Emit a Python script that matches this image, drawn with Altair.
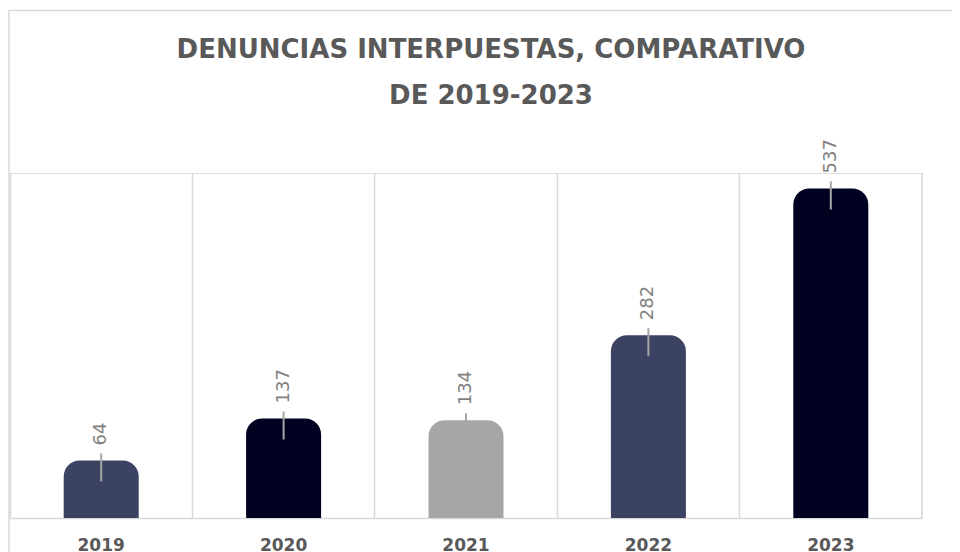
import altair as alt
import pandas as pd

years = ["2019", "2020", "2021", "2022", "2023"]
values = [64, 137, 134, 282, 537]
bar_colors = ["#3c4262", "#000020", "#a6a6a6", "#3c4262", "#000020"]
title_lines = ["DENUNCIAS INTERPUESTAS, COMPARATIVO", "DE 2019-2023"]

df = pd.DataFrame({"year": years, "value": values})

W, H = 912, 345
ydom = [-36, 564]

x = alt.X("year:N", sort=years, scale=alt.Scale(paddingInner=0, paddingOuter=0),
          axis=alt.Axis(title=None, labels=False, ticks=False, grid=True, bandPosition=0,
                        gridColor="#d9d9d9", gridWidth=1.5, domainColor="#d9d9d9",
                        domainWidth=1.5))
yenc = alt.Y("value:Q", scale=alt.Scale(domain=ydom, nice=False, zero=False), axis=None)

one = pd.DataFrame({"k": [0]})

border = alt.Chart(one).mark_rect(
    fill=None, stroke="#d9d9d9", strokeWidth=1.5
).encode(x=alt.value(-1), x2=alt.value(2000), y=alt.value(-162.5), y2=alt.value(1000))

right_line = alt.Chart(one).mark_rule(
    color="#d9d9d9", strokeWidth=1.5
).encode(x=alt.value(W), y=alt.value(0), y2=alt.value(H))

bars = alt.Chart(df).mark_bar(width=75, cornerRadiusTopLeft=16, cornerRadiusTopRight=16).encode(
    x=x,
    y=yenc,
    y2=alt.datum(ydom[0]),
    color=alt.Color("year:N", scale=alt.Scale(domain=years, range=bar_colors), legend=None),
)

ticks = alt.Chart(df).mark_rule(color="#a6a6a6", strokeWidth=2, yOffset=-7, y2Offset=21).encode(
    x=alt.X("year:N", sort=years),
    y=yenc,
    y2="value:Q",
)

labels = alt.Chart(df).mark_text(
    angle=270, align="left", baseline="middle", font="DejaVu Sans", fontSize=18,
    color="#808080", yOffset=-15
).encode(x=alt.X("year:N", sort=years), y=yenc, text="value:Q")

xlabels = alt.Chart(df).mark_text(
    font="DejaVu Sans", fontSize=17, fontWeight="bold", color="#595959",
    baseline="top"
).encode(x=alt.X("year:N", sort=years), y=alt.value(H + 20), text="year:N")

title1 = alt.Chart(one).mark_text(
    font="DejaVu Sans", fontSize=26, fontWeight="bold", color="#595959",
    align="center", baseline="alphabetic"
).encode(x=alt.value(481), y=alt.value(-115), text=alt.value(title_lines[0]))

title2 = alt.Chart(one).mark_text(
    font="DejaVu Sans", fontSize=26, fontWeight="bold", color="#595959",
    align="center", baseline="alphabetic"
).encode(x=alt.value(481), y=alt.value(-69), text=alt.value(title_lines[1]))

chart = alt.layer(border, right_line, bars, ticks, labels, xlabels, title1, title2).properties(
    width=W, height=H,
    autosize=alt.AutoSizeParams(type="none"),
    padding={"left": 2, "top": 165, "right": 30, "bottom": 34},
).configure_view(stroke="transparent").configure(background="white")

chart.save("out.html", embed_options={"renderer": "svg", "actions": False})
